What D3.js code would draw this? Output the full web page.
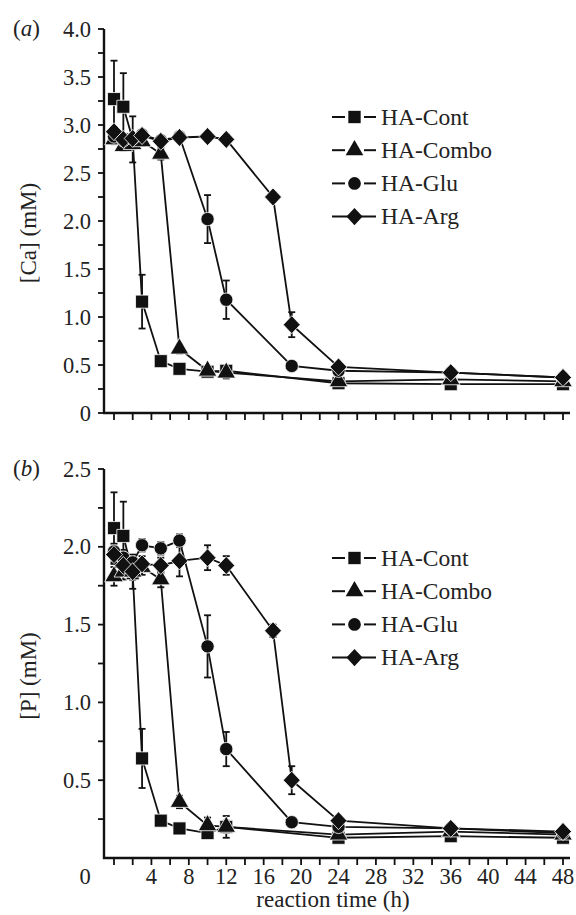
<!DOCTYPE html>
<html><head><meta charset="utf-8">
<script src="https://cdn.jsdelivr.net/npm/d3@7"></script>
<style>body{margin:0;background:#fff}svg{display:block}text{font-family:"Liberation Serif","Times New Roman",serif;fill:#222}</style>
</head><body><svg id="c" width="576" height="915"></svg>
<script>
const seriesNames = ["HA-Cont","HA-Combo","HA-Glu","HA-Arg"];
const seriesShapes = ["square","triangle","circle","diamond"];

const tCont  = [0,1,2,3,5,7,10,12,24,36,48];
const tCombo = [0,1,2,3,5,7,10,12,24,36,48];
const tGlu   = [0,1,2,3,5,7,10,12,19,24,36,48];
const tArg   = [0,1,2,3,5,7,10,12,17,19,24,36,48];

// panel (a) [Ca]
const caCont     = [3.27,3.19,2.85,1.16,0.54,0.46,0.43,0.44,0.31,0.30,0.30];
const caContErr  = [0.40,0.35,0.24,0.28,0.03,0.03,0.04,0.05,0.03,0.03,0.03];
const caCombo    = [2.85,2.78,2.80,2.83,2.70,0.67,0.44,0.42,0.33,0.35,0.33];
const caComboErr = [0.05,0.05,0.05,0.05,0.06,0.05,0.05,0.06,0.03,0.03,0.03];
const caGlu      = [2.88,2.84,2.86,2.90,2.84,2.88,2.02,1.18,0.49,0.44,0.42,0.37];
const caGluErr   = [0.05,0.05,0.05,0.05,0.05,0.05,0.25,0.20,0.03,0.03,0.03,0.03];
const caArg      = [2.93,2.85,2.86,2.89,2.83,2.87,2.88,2.85,2.25,0.92,0.48,0.42,0.37];
const caArgErr   = [0.05,0.05,0.05,0.05,0.05,0.05,0.05,0.05,0.05,0.13,0.04,0.03,0.03];

// panel (b) [P]
const pCont     = [2.12,2.07,1.83,0.64,0.24,0.19,0.16,0.20,0.13,0.14,0.13];
const pContErr  = [0.23,0.22,0.10,0.19,0.02,0.02,0.03,0.07,0.02,0.02,0.02];
const pCombo    = [1.81,1.84,1.84,1.87,1.79,0.36,0.21,0.20,0.15,0.17,0.15];
const pComboErr = [0.06,0.05,0.05,0.05,0.05,0.04,0.05,0.04,0.02,0.02,0.02];
const pGlu      = [1.97,1.93,1.90,2.01,1.99,2.04,1.36,0.70,0.23,0.20,0.19,0.16];
const pGluErr   = [0.05,0.05,0.05,0.04,0.04,0.04,0.20,0.11,0.03,0.02,0.02,0.02];
const pArg      = [1.95,1.88,1.84,1.89,1.88,1.91,1.93,1.88,1.46,0.50,0.24,0.19,0.17];
const pArgErr   = [0.05,0.05,0.05,0.05,0.05,0.10,0.08,0.06,0.04,0.09,0.03,0.02,0.02];

const xTicks = d3.range(0, 49, 2);
const xTickLabels = [4,8,12,16,20,24,28,32,36,40,44,48];
const caTicks = d3.range(0, 4.01, 0.25);
const caTickLabels = [0,0.5,1.0,1.5,2.0,2.5,3.0,3.5,4.0];
const pTicks = d3.range(0.25, 2.51, 0.25);
const pTickLabels = [0.5,1.0,1.5,2.0,2.5];

const svg = d3.select("#c");
const x = d3.scaleLinear().domain([0,48]).range([114,563]);
const axisX0 = 104, axisX1 = 570;

function shapePath(shape, k){
  k = k || 1;
  if(shape==="square") return d3.symbol(d3.symbolSquare,170*k)();
  if(shape==="triangle") return d3.symbol(d3.symbolTriangle,150*k)();
  if(shape==="circle") return d3.symbol(d3.symbolCircle,140*k)();
  const s = Math.sqrt(k);
  return `M0,${-9*s}L${8.5*s},0L0,${9*s}L${-8.5*s},0Z`;
}

function panel(opt){
  const y = d3.scaleLinear().domain(opt.domain).range(opt.range);
  const g = svg.append("g");
  g.append("line").attr("x1",axisX0).attr("x2",axisX0).attr("y1",y(opt.domain[1])).attr("y2",y(0)+1)
    .attr("stroke","#111").attr("stroke-width",2.4);
  g.append("line").attr("x1",axisX0-1).attr("x2",axisX1).attr("y1",y(0)).attr("y2",y(0))
    .attr("stroke","#111").attr("stroke-width",2.4);
  g.selectAll(".xt").data(xTicks).join("line").attr("x1",d=>x(d)).attr("x2",d=>x(d))
    .attr("y1",y(0)).attr("y2",y(0)+7).attr("stroke","#111").attr("stroke-width",1.8);
  g.selectAll(".yt").data(opt.ticks).join("line").attr("x1",axisX0).attr("x2",axisX0-6)
    .attr("y1",d=>y(d)).attr("y2",d=>y(d)).attr("stroke","#111").attr("stroke-width",1.8);
  g.selectAll(".yl").data(opt.tickLabels).join("text").attr("x",91).attr("y",d=>y(d)+7.5)
    .attr("text-anchor","end").style("font-size","22.5px").text(d=>d===0?"0":d3.format(".1f")(d));
  if(opt.xLabels){
    g.selectAll(".xl").data(xTickLabels).join("text").attr("x",d=>x(d)).attr("y",y(0)+26)
      .attr("text-anchor","middle").style("font-size","22.5px").text(d=>d);
    g.append("text").attr("x",85).attr("y",y(0)+26).attr("text-anchor","middle").style("font-size","22.5px").text("0");
  }
  const pl = g.append("text").attr("x",13).attr("y",y(opt.domain[1])+7).style("font-size","23px");
  pl.append("tspan").text("(");
  pl.append("tspan").style("font-style","italic").text(opt.letter);
  pl.append("tspan").text(")");
  g.append("text").attr("transform",`translate(36,${opt.titleY}) rotate(-90)`).attr("text-anchor","middle")
    .style("font-size","23px").text(opt.title);

  const series = opt.series.map((s,i)=>({name:seriesNames[i],shape:seriesShapes[i],
    pts:s.t.map((t,j)=>({t,v:s.v[j],e:s.e[j]}))}));
  const line = d3.line().x(d=>x(d.t)).y(d=>y(d.v));
  series.forEach(s=>{
    g.append("path").attr("d",line(s.pts)).attr("fill","none").attr("stroke","#111").attr("stroke-width",1.8);
  });
  series.forEach(s=>{
    const eb = g.append("g");
    s.pts.forEach(p=>{
      const y1=y(p.v+p.e), y2=y(p.v-p.e);
      eb.append("line").attr("x1",x(p.t)).attr("x2",x(p.t)).attr("y1",y1).attr("y2",y2).attr("stroke","#111").attr("stroke-width",1.8);
      [y1,y2].forEach(yy=>eb.append("line").attr("x1",x(p.t)-3.5).attr("x2",x(p.t)+3.5).attr("y1",yy).attr("y2",yy).attr("stroke","#111").attr("stroke-width",1.8));
    });
  });
  series.forEach(s=>{
    g.selectAll(null).data(s.pts).join("path").attr("d",shapePath(s.shape))
      .attr("transform",d=>`translate(${x(d.t)},${y(d.v)})`).attr("fill","#111").attr("stroke","#fff").attr("stroke-width",0.8);
  });
  series.forEach((s,i)=>{
    const ly = opt.legendY + i*33.2;
    const lg = g.append("g");
    if(s.shape==="diamond"){
      lg.append("line").attr("x1",332).attr("x2",376).attr("y1",ly).attr("y2",ly).attr("stroke","#111").attr("stroke-width",2);
    } else {
      lg.append("line").attr("x1",332).attr("x2",345).attr("y1",ly).attr("y2",ly).attr("stroke","#111").attr("stroke-width",2);
      lg.append("line").attr("x1",364).attr("x2",376).attr("y1",ly).attr("y2",ly).attr("stroke","#111").attr("stroke-width",2);
    }
    lg.append("path").attr("d",shapePath(s.shape,0.9)).attr("transform",`translate(354.5,${ly})`).attr("fill","#111");
    lg.append("text").attr("x",381).attr("y",ly+7.8).style("font-size","23.5px").text(s.name);
  });
}

panel({domain:[0,4],range:[413,29],ticks:caTicks,tickLabels:caTickLabels,letter:"a",title:"[Ca] (mM)",titleY:233,legendY:117,xLabels:false,
  series:[{t:tCont,v:caCont,e:caContErr},{t:tCombo,v:caCombo,e:caComboErr},{t:tGlu,v:caGlu,e:caGluErr},{t:tArg,v:caArg,e:caArgErr}]});
panel({domain:[0,2.5],range:[858,469],ticks:pTicks,tickLabels:pTickLabels,letter:"b",title:"[P] (mM)",titleY:676,legendY:558,xLabels:true,
  series:[{t:tCont,v:pCont,e:pContErr},{t:tCombo,v:pCombo,e:pComboErr},{t:tGlu,v:pGlu,e:pGluErr},{t:tArg,v:pArg,e:pArgErr}]});

svg.append("text").attr("x",333).attr("y",907).attr("text-anchor","middle").style("font-size","23px").text("reaction time (h)");
</script></body></html>
